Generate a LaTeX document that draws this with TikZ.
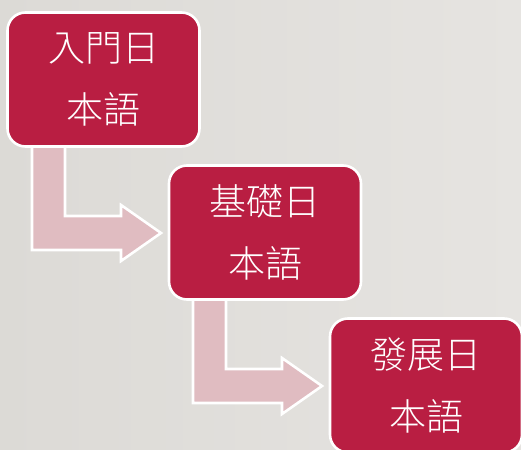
\documentclass[tikz,border=0pt]{standalone}
\usepackage{fontspec}
\newfontfamily\cjk{Noto Sans CJK TC Light}
\definecolor{boxred}{RGB}{185,30,66}
\definecolor{arrowpink}{RGB}{224,188,193}
\definecolor{bgleft}{RGB}{220,218,214}
\definecolor{bgright}{RGB}{230,228,225}
\tikzset{
  stage/.style={draw=white, line width=2.6pt, fill=boxred, rounded corners=18pt,
    minimum width=192pt, minimum height=134pt, inner sep=0pt, text=white,
    align=center, font=\cjk\fontsize{37}{62}\selectfont},
  arrowbody/.style={draw=white, line width=2.6pt, fill=arrowpink, line join=miter},
  bentarrow/.pic={
    \path[arrowbody] (26,-12) -- (26,102) -- (115,102) -- (115,113) -- (155,85)
      -- (115,57) -- (115,68) -- (59,68) -- (59,-12) -- cycle;
  }
}
\begin{document}
\begin{tikzpicture}[x=1pt,y=-1pt]
  \shade[left color=bgleft, right color=bgright] (0,0) rectangle (521,449);
  \useasboundingbox (0,0) rectangle (521,449);
  \coordinate (a1) at (6,148);
  \coordinate (a2) at (167,301);
  \pic at (a1) {bentarrow};
  \pic at (a2) {bentarrow};
  \node[stage] (b1) at (103.5,79.5) {入門日\\本語};
  \node[stage] (b2) at (265,232.5) {基礎日\\本語};
  \node[stage] (b3) at (426,385.5) {發展日\\本語};
\end{tikzpicture}
\end{document}
